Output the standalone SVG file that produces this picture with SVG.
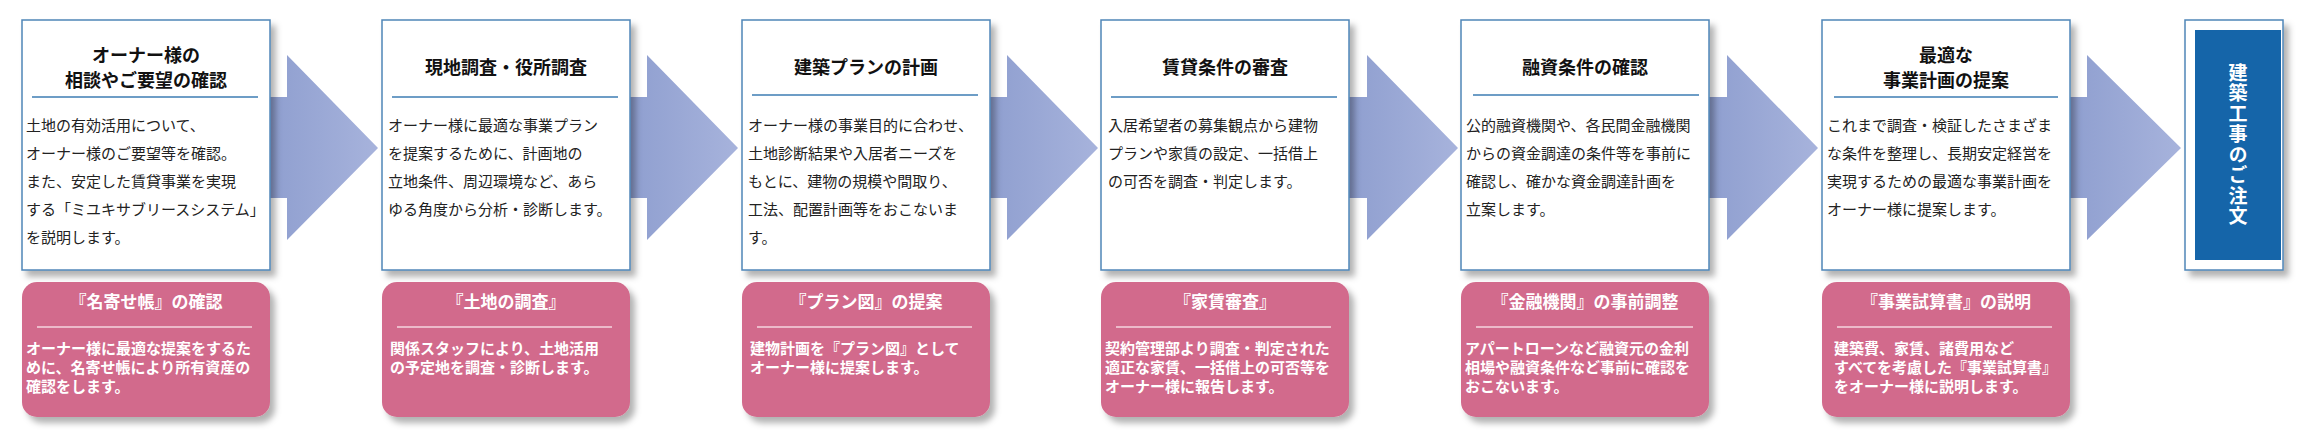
<svg xmlns="http://www.w3.org/2000/svg" width="2308" height="441" viewBox="0 0 2308 441">
<style>
text{font-family:"Noto Sans CJK JP","Noto Sans",sans-serif}
.card{fill:#fff;stroke:#4f86b8;stroke-width:1.5}
.pink{fill:#d26b8c}
.arrow{fill:url(#ag)}
.tt{font-size:18px;font-weight:bold;fill:#111;text-anchor:middle}
.bd{font-size:15px;fill:#222}
.sep{stroke:#3d7db3;stroke-width:1.5}
.pt{font-size:17px;font-weight:bold;fill:#fff;text-anchor:middle}
.pb{font-size:15px;font-weight:bold;fill:#fff}
.psep{stroke:#f4d6df;stroke-width:1.5}
.vt{font-size:19px;font-weight:bold;fill:#fff;writing-mode:vertical-rl;letter-spacing:1.5px}
</style>
<defs>
<linearGradient id="ag" x1="0" y1="0" x2="1" y2="0"><stop offset="0" stop-color="#8e9ecf"/><stop offset="1" stop-color="#a7b3dc"/></linearGradient>
<filter id="sh" x="-10%" y="-10%" width="130%" height="130%"><feDropShadow dx="5" dy="6" stdDeviation="3" flood-color="#000" flood-opacity="0.3"/></filter>
</defs>
<g id="connectors">
<polygon class="arrow" points="265,97 287,97 287,55 378,148 287,240 287,198 265,198"/>
<polygon class="arrow" points="625,97 647,97 647,55 738,148 647,240 647,198 625,198"/>
<polygon class="arrow" points="985,97 1007,97 1007,55 1098,148 1007,240 1007,198 985,198"/>
<polygon class="arrow" points="1345,97 1367,97 1367,55 1458,148 1367,240 1367,198 1345,198"/>
<polygon class="arrow" points="1705,97 1727,97 1727,55 1818,148 1727,240 1727,198 1705,198"/>
<polygon class="arrow" points="2065,97 2087,97 2087,55 2181,148 2087,240 2087,198 2065,198"/>
</g>
<g id="node1">
<rect class="card" x="22" y="20" width="248" height="250" filter="url(#sh)"/>
<text class="tt" x="146" y="62">オーナー様の</text><text class="tt" x="146" y="87">相談やご要望の確認</text>
<line class="sep" x1="32" y1="97" x2="258" y2="97"/>
<text class="bd" x="26"><tspan x="26" y="131">土地の有効活用について、</tspan><tspan x="26" y="159">オーナー様のご要望等を確認。</tspan><tspan x="26" y="187">また、安定した賃貸事業を実現</tspan><tspan x="26" y="215">する「ミユキサブリースシステム」</tspan><tspan x="26" y="243">を説明します。</tspan></text>
<rect class="pink" x="22" y="282" width="248" height="135" rx="15" filter="url(#sh)"/>
<text class="pt" x="146" y="308">『名寄せ帳』の確認</text>
<line class="psep" x1="37" y1="327" x2="252" y2="327"/>
<text class="pb"><tspan x="26" y="354">オーナー様に最適な提案をするた</tspan><tspan x="26" y="373">めに、名寄せ帳により所有資産の</tspan><tspan x="26" y="392">確認をします。</tspan></text>
</g>
<g id="node2">
<rect class="card" x="382" y="20" width="248" height="250" filter="url(#sh)"/>
<text class="tt" x="506" y="74">現地調査・役所調査</text>
<line class="sep" x1="392" y1="97" x2="618" y2="97"/>
<text class="bd"><tspan x="388" y="131">オーナー様に最適な事業プラン</tspan><tspan x="388" y="159">を提案するために、計画地の</tspan><tspan x="388" y="187">立地条件、周辺環境など、あら</tspan><tspan x="388" y="215">ゆる角度から分析・診断します。</tspan></text>
<rect class="pink" x="382" y="282" width="248" height="135" rx="15" filter="url(#sh)"/>
<text class="pt" x="506" y="308">『土地の調査』</text>
<line class="psep" x1="397" y1="327" x2="612" y2="327"/>
<text class="pb"><tspan x="390" y="354">関係スタッフにより、土地活用</tspan><tspan x="390" y="373">の予定地を調査・診断します。</tspan></text>
</g>
<g id="node3">
<rect class="card" x="742" y="20" width="248" height="250" filter="url(#sh)"/>
<text class="tt" x="866" y="74">建築プランの計画</text>
<line class="sep" x1="752" y1="95" x2="978" y2="95"/>
<text class="bd"><tspan x="748" y="131">オーナー様の事業目的に合わせ、</tspan><tspan x="748" y="159">土地診断結果や入居者ニーズを</tspan><tspan x="748" y="187">もとに、建物の規模や間取り、</tspan><tspan x="748" y="215">工法、配置計画等をおこないま</tspan><tspan x="748" y="243">す。</tspan></text>
<rect class="pink" x="742" y="282" width="248" height="135" rx="15" filter="url(#sh)"/>
<text class="pt" x="866" y="308">『プラン図』の提案</text>
<line class="psep" x1="757" y1="327" x2="972" y2="327"/>
<text class="pb"><tspan x="750" y="354">建物計画を『プラン図』として</tspan><tspan x="750" y="373">オーナー様に提案します。</tspan></text>
</g>
<g id="node4">
<rect class="card" x="1101" y="20" width="248" height="250" filter="url(#sh)"/>
<text class="tt" x="1225" y="74">賃貸条件の審査</text>
<line class="sep" x1="1111" y1="97" x2="1337" y2="97"/>
<text class="bd"><tspan x="1108" y="131">入居希望者の募集観点から建物</tspan><tspan x="1108" y="159">プランや家賃の設定、一括借上</tspan><tspan x="1108" y="187">の可否を調査・判定します。</tspan></text>
<rect class="pink" x="1101" y="282" width="248" height="135" rx="15" filter="url(#sh)"/>
<text class="pt" x="1225" y="308">『家賃審査』</text>
<line class="psep" x1="1116" y1="327" x2="1331" y2="327"/>
<text class="pb"><tspan x="1105" y="354">契約管理部より調査・判定された</tspan><tspan x="1105" y="373">適正な家賃、一括借上の可否等を</tspan><tspan x="1105" y="392">オーナー様に報告します。</tspan></text>
</g>
<g id="node5">
<rect class="card" x="1461" y="20" width="248" height="250" filter="url(#sh)"/>
<text class="tt" x="1585" y="74">融資条件の確認</text>
<line class="sep" x1="1473" y1="95" x2="1699" y2="95"/>
<text class="bd"><tspan x="1466" y="131">公的融資機関や、各民間金融機関</tspan><tspan x="1466" y="159">からの資金調達の条件等を事前に</tspan><tspan x="1466" y="187">確認し、確かな資金調達計画を</tspan><tspan x="1466" y="215">立案します。</tspan></text>
<rect class="pink" x="1461" y="282" width="248" height="135" rx="15" filter="url(#sh)"/>
<text class="pt" x="1585" y="308">『金融機関』の事前調整</text>
<line class="psep" x1="1476" y1="327" x2="1693" y2="327"/>
<text class="pb"><tspan x="1465" y="354">アパートローンなど融資元の金利</tspan><tspan x="1465" y="373">相場や融資条件など事前に確認を</tspan><tspan x="1465" y="392">おこないます。</tspan></text>
</g>
<g id="node6">
<rect class="card" x="1822" y="20" width="248" height="250" filter="url(#sh)"/>
<text class="tt" x="1946" y="62">最適な</text><text class="tt" x="1946" y="87">事業計画の提案</text>
<line class="sep" x1="1834" y1="97" x2="2058" y2="97"/>
<text class="bd"><tspan x="1827" y="131">これまで調査・検証したさまざま</tspan><tspan x="1827" y="159">な条件を整理し、長期安定経営を</tspan><tspan x="1827" y="187">実現するための最適な事業計画を</tspan><tspan x="1827" y="215">オーナー様に提案します。</tspan></text>
<rect class="pink" x="1822" y="282" width="248" height="135" rx="15" filter="url(#sh)"/>
<text class="pt" x="1946" y="308">『事業試算書』の説明</text>
<line class="psep" x1="1837" y1="327" x2="2052" y2="327"/>
<text class="pb"><tspan x="1834" y="354">建築費、家賃、諸費用など</tspan><tspan x="1834" y="373">すべてを考慮した『事業試算書』</tspan><tspan x="1834" y="392">をオーナー様に説明します。</tspan></text>
</g>
<g id="node7">
<rect class="card" x="2185" y="20" width="98" height="250" filter="url(#sh)"/>
<rect x="2195" y="30" width="86" height="230" fill="#1565a9"/>
<text class="vt" x="2238" y="63">建築工事のご注文</text>
</g>
</svg>
